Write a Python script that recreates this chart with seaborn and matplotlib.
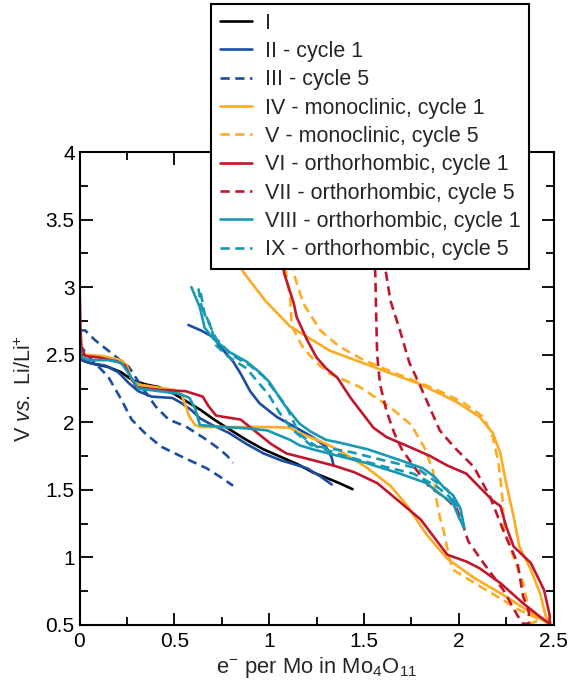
import numpy as np
import pandas as pd
import matplotlib
matplotlib.use("Agg")
import matplotlib.pyplot as plt
from matplotlib.ticker import MultipleLocator
import seaborn as sns

# ---------------- data ----------------
labels = ["I", "II - cycle 1", "III - cycle 5", "IV - monoclinic, cycle 1",
          "V - monoclinic, cycle 5", "VI - orthorhombic, cycle 1",
          "VII - orthorhombic, cycle 5", "VIII - orthorhombic, cycle 1",
          "IX - orthorhombic, cycle 5"]

# I (black)
I_x = [0, 0.005, 0.01, 0.03, 0.08, 0.15, 0.22, 0.28, 0.35, 0.42, 0.50, 0.57, 0.64,
       0.71, 0.80, 0.88, 0.97, 1.06, 1.15, 1.23, 1.30, 1.37, 1.44]
I_V = [2.58, 2.52, 2.48, 2.45, 2.43, 2.41, 2.37, 2.31, 2.28, 2.26, 2.21, 2.15, 2.09,
       2.02, 1.94, 1.87, 1.80, 1.745, 1.69, 1.63, 1.59, 1.55, 1.505]

# II (blue, cycle 1): discharge and charge
II_dis_x = [0, 0.005, 0.01, 0.05, 0.135, 0.205, 0.26, 0.31, 0.38, 0.49, 0.54, 0.59, 0.635,
            0.70, 0.79, 0.88, 0.97, 1.06, 1.20, 1.27, 1.33]
II_dis_V = [2.55, 2.49, 2.46, 2.44, 2.42, 2.37, 2.29, 2.23, 2.19, 2.18, 2.14, 2.09, 2.03,
            1.98, 1.92, 1.84, 1.77, 1.72, 1.66, 1.60, 1.54]
II_chg_x = [1.34, 1.33, 1.30, 1.23, 1.13, 1.04, 0.95, 0.90, 0.85, 0.81, 0.76, 0.705, 0.64, 0.574]
II_chg_V = [1.68, 1.74, 1.82, 1.89, 1.97, 2.04, 2.14, 2.23, 2.36, 2.45, 2.53, 2.63, 2.68, 2.72]

# III (blue dashed, cycle 5)
III_a_x = [0.0, 0.03, 0.08, 0.17, 0.26, 0.33, 0.40, 0.47, 0.56, 0.66, 0.74, 0.78, 0.81]
III_a_V = [2.68, 2.68, 2.61, 2.51, 2.41, 2.26, 2.12, 2.02, 1.97, 1.88, 1.80, 1.75, 1.70]
III_b_x = [0.0, 0.04, 0.08, 0.15, 0.22, 0.275, 0.345, 0.43, 0.54, 0.67, 0.76, 0.81]
III_b_V = [2.58, 2.50, 2.44, 2.34, 2.17, 2.02, 1.92, 1.82, 1.745, 1.66, 1.58, 1.53]

# IV (orange, monoclinic cycle 1)
IV_x = [0, 0.005, 0.015, 0.03, 0.12, 0.22, 0.25, 0.275, 0.31, 0.40, 0.50, 0.54, 0.58, 0.61,
        0.64, 0.75, 0.88, 1.0, 1.11, 1.16, 1.27, 1.36, 1.51, 1.64, 1.73, 1.83, 1.94, 2.08,
        2.25, 2.36, 2.46, 2.49,
        2.48, 2.46, 2.43, 2.38, 2.32, 2.29, 2.25, 2.22, 2.18, 2.11, 1.99, 1.80, 1.55, 1.32,
        1.11, 0.98, 0.87, 0.80]
IV_V = [2.75, 2.60, 2.52, 2.50, 2.49, 2.46, 2.42, 2.31, 2.28, 2.26, 2.24, 2.20, 2.04, 1.98,
        1.965, 1.965, 1.965, 1.965, 1.96, 1.92, 1.86, 1.80, 1.67, 1.53, 1.38, 1.17, 0.99, 0.85,
        0.71, 0.61, 0.52, 0.50,
        0.53, 0.56, 0.73, 0.91, 1.08, 1.30, 1.55, 1.77, 1.92, 2.04, 2.15, 2.28, 2.41, 2.53,
        2.71, 2.90, 3.10, 3.25]

# V (orange dashed, monoclinic cycle 5)
V_x = [1.085, 1.09, 1.11, 1.12, 1.18, 1.25, 1.32, 1.48, 1.64, 1.75, 1.82, 1.865, 1.88, 1.90,
       1.92, 1.95, 1.97, 2.06, 2.18, 2.32, 2.43,
       2.38, 2.37, 2.34, 2.29, 2.24, 2.23, 2.21, 2.18, 2.13, 2.02, 1.87, 1.67, 1.50, 1.37,
       1.27, 1.18, 1.13, 1.11]
V_V = [3.25, 3.10, 2.93, 2.71, 2.55, 2.44, 2.36, 2.26, 2.11, 1.98, 1.81, 1.64, 1.45, 1.30,
       1.20, 1.00, 0.91, 0.83, 0.73, 0.61, 0.54,
       0.51, 0.61, 0.81, 1.00, 1.20, 1.45, 1.70, 1.89, 2.04, 2.15, 2.25, 2.36, 2.46, 2.56,
       2.68, 2.88, 3.10, 3.25]

# VI (red, orthorhombic cycle 1)
VI_x = [0, 0.002, 0.005, 0.01, 0.03, 0.10, 0.20, 0.24, 0.26, 0.30, 0.42, 0.56, 0.65, 0.68,
        0.72, 0.76, 0.85, 0.93, 1.01, 1.09, 1.16, 1.23, 1.34, 1.45, 1.57, 1.69, 1.80, 1.94,
        2.04, 2.11, 2.22, 2.34, 2.43, 2.48,
        2.48, 2.45, 2.38, 2.29, 2.25, 2.22, 2.18, 2.11, 2.04, 1.94, 1.85, 1.72, 1.62, 1.55,
        1.43, 1.36, 1.30, 1.25, 1.20, 1.145, 1.13, 1.08, 1.06]
VI_V = [3.08, 2.90, 2.70, 2.55, 2.49, 2.48, 2.45, 2.42, 2.36, 2.26, 2.24, 2.23, 2.19, 2.12,
        2.05, 2.04, 2.02, 1.93, 1.84, 1.77, 1.745, 1.72, 1.68, 1.63, 1.55, 1.41, 1.28, 1.02,
        0.97, 0.92, 0.81, 0.66, 0.56, 0.51,
        0.57, 0.76, 0.96, 1.08, 1.23, 1.38, 1.42, 1.52, 1.62, 1.68, 1.75, 1.83, 1.89, 1.96,
        2.18, 2.33, 2.40, 2.48, 2.61, 2.78, 2.88, 3.10, 3.25]

# VII (red dashed, orthorhombic cycle 5)
VII_x = [1.555, 1.56, 1.565, 1.57, 1.585, 1.62, 1.66, 1.70, 1.76, 1.84, 1.93, 1.99, 2.02,
         2.05, 2.13, 2.235, 2.31, 2.34,
         2.37, 2.37, 2.34, 2.31, 2.235, 2.165, 2.08, 1.98, 1.90, 1.80, 1.74, 1.69, 1.64, 1.60]
VII_V = [3.25, 3.10, 2.78, 2.50, 2.28, 2.08, 1.92, 1.80, 1.68, 1.53, 1.44, 1.36, 1.25,
         1.12, 0.96, 0.76, 0.57, 0.51,
         0.51, 0.60, 0.71, 0.96, 1.20, 1.45, 1.67, 1.81, 1.94, 2.26, 2.44, 2.68, 2.90, 3.25]

# VIII (teal, orthorhombic cycle 1)
VIII_x = [0, 0.003, 0.01, 0.05, 0.15, 0.22, 0.26, 0.31, 0.42, 0.53, 0.58, 0.61, 0.635, 0.71,
          0.88, 0.99, 1.11, 1.16, 1.23, 1.34, 1.51, 1.69, 1.83, 1.90, 1.97, 2.00, 2.03,
          2.01, 1.97, 1.92, 1.87, 1.81, 1.69, 1.52, 1.37, 1.30, 1.22, 1.16, 1.08, 1.00, 0.95,
          0.88, 0.79, 0.705, 0.66, 0.635, 0.59]
VIII_V = [2.62, 2.55, 2.48, 2.46, 2.46, 2.44, 2.36, 2.25, 2.23, 2.21, 2.18, 2.10, 1.98, 1.97,
          1.955, 1.94, 1.87, 1.83, 1.80, 1.76, 1.70, 1.62, 1.55, 1.47, 1.40, 1.30, 1.215,
          1.36, 1.46, 1.52, 1.60, 1.66, 1.72, 1.80, 1.85, 1.87, 1.93, 1.99, 2.13, 2.30, 2.37,
          2.45, 2.52, 2.62, 2.70, 2.85, 3.00]

# IX (teal dashed, orthorhombic cycle 5)
IX_x = [0.627, 0.645, 0.69, 0.72, 0.78, 0.88, 0.94, 1.00, 1.05, 1.12, 1.22, 1.43, 1.60,
        1.78, 1.87, 1.94, 1.99,
        1.95, 1.88, 1.76, 1.585, 1.40, 1.25, 1.16, 1.09, 1.02, 0.97, 0.90, 0.80, 0.72,
        0.66, 0.635]
IX_V = [2.99, 2.85, 2.72, 2.57, 2.49, 2.40, 2.30, 2.20, 2.08, 1.95, 1.83, 1.78, 1.72,
        1.66, 1.57, 1.50, 1.38,
        1.45, 1.53, 1.62, 1.68, 1.75, 1.82, 1.91, 2.12, 2.25, 2.34, 2.42, 2.50, 2.62,
        2.80, 2.99]

x_ticks = [0, 0.5, 1, 1.5, 2, 2.5]
x_ticklabels = ["0", "0.5", "1", "1.5", "2", "2.5"]
y_ticks = [0.5, 1, 1.5, 2, 2.5, 3, 3.5, 4]
y_ticklabels = ["0.5", "1", "1.5", "2", "2.5", "3", "3.5", "4"]

# ---------------- style ----------------
sns.set_style("ticks")
plt.rcParams["font.family"] = ["Liberation Sans", "DejaVu Sans"]
plt.rcParams["mathtext.fontset"] = "custom"
plt.rcParams["mathtext.rm"] = "Liberation Sans"
plt.rcParams["mathtext.it"] = "Liberation Sans:italic"
plt.rcParams["lines.dashed_pattern"] = [3.5, 2.1]

BLACK = "#000000"
BLUE = "#1b4ea3"
ORANGE = "#fdab22"
RED = "#c1172c"
TEAL = "#1799b3"

series = [
    (labels[0], BLACK, "-", [(I_x, I_V)]),
    (labels[1], BLUE, "-", [(II_dis_x, II_dis_V), (II_chg_x, II_chg_V)]),
    (labels[2], BLUE, "--", [(III_a_x, III_a_V), (III_b_x, III_b_V)]),
    (labels[3], ORANGE, "-", [(IV_x, IV_V)]),
    (labels[4], ORANGE, "--", [(V_x, V_V)]),
    (labels[5], RED, "-", [(VI_x, VI_V)]),
    (labels[6], RED, "--", [(VII_x, VII_V)]),
    (labels[7], TEAL, "-", [(VIII_x, VIII_V)]),
    (labels[8], TEAL, "--", [(IX_x, IX_V)]),
]

fig = plt.figure(figsize=(5.71, 6.88), dpi=100)
ax = fig.add_axes([79.5 / 571, 63 / 688, 474 / 571, 473 / 688])

handles = []
for lab, col, ls, segs in series:
    frames = []
    for k, (xs, vs) in enumerate(segs):
        frames.append(pd.DataFrame({"x": xs, "V": vs, "seg": k}))
    df = pd.concat(frames, ignore_index=True)
    n_before = len(ax.lines)
    sns.lineplot(data=df, x="x", y="V", units="seg", estimator=None, sort=False,
                 color=col, linestyle=ls, linewidth=1.9, ax=ax, legend=False)
    handles.append(ax.lines[n_before])

ax.set_xlim(0, 2.5)
ax.set_ylim(0.5, 4)
ax.set_xticks(x_ticks)
ax.set_xticklabels(x_ticklabels)
ax.set_yticks(y_ticks)
ax.set_yticklabels(y_ticklabels)
ax.xaxis.set_minor_locator(MultipleLocator(0.25))
ax.yaxis.set_minor_locator(MultipleLocator(0.25))
ax.tick_params(which="both", direction="in", top=True, right=True, width=1.3,
               colors="black", labelsize=15)
ax.tick_params(which="major", length=9)
ax.tick_params(which="minor", length=5.5)
ax.tick_params(axis="x", pad=5)
for sp in ax.spines.values():
    sp.set_linewidth(1.5)
    sp.set_color("black")

ax.set_xlabel(r"e$^{-}$ per Mo in Mo$_{4}$O$_{11}$", fontsize=15.8, labelpad=3)
ax.set_ylabel(r"V $\mathit{vs.}$ Li/Li$^{+}$", fontsize=15.5, labelpad=7)

leg = ax.legend(handles, labels, loc="upper left",
                bbox_to_anchor=(211 / 571, 1 - 4 / 688), bbox_transform=fig.transFigure,
                borderaxespad=0, fontsize=15.5, frameon=True, fancybox=False,
                framealpha=1, edgecolor="black", handlelength=1.5, handletextpad=0.6,
                labelspacing=0.34, borderpad=0.4)
leg.get_frame().set_linewidth(1.5)

fig.savefig("out.png", dpi=100)
